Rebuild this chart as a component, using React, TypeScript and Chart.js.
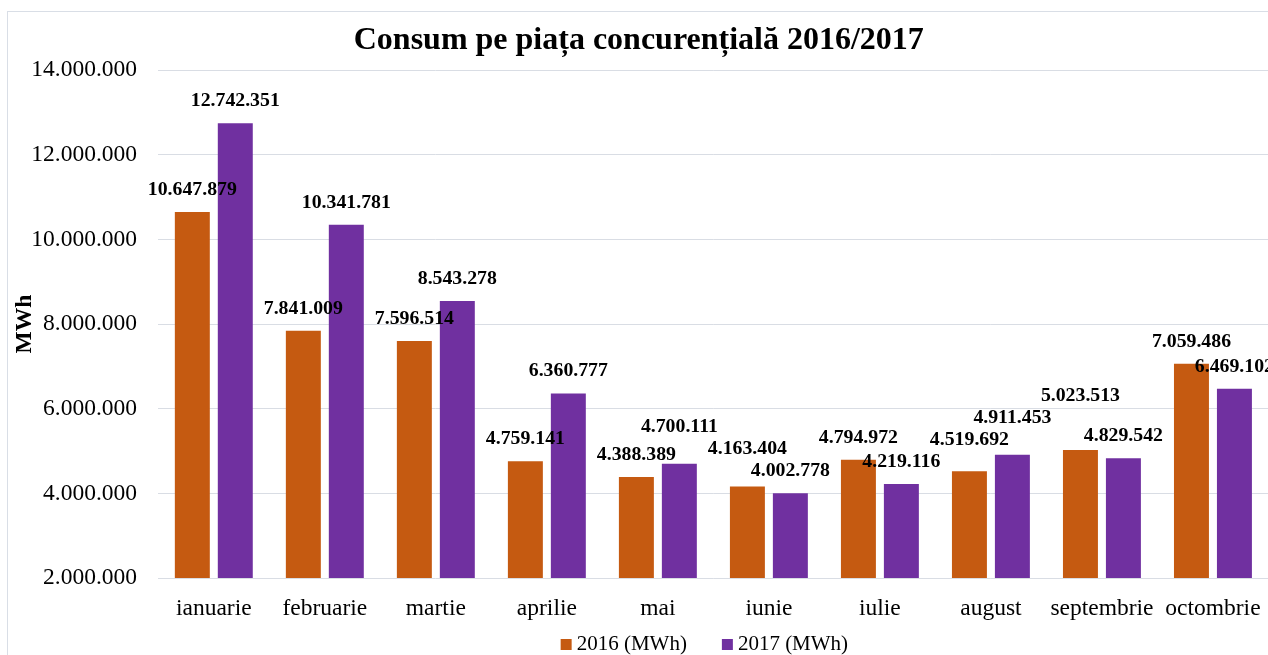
import { useEffect, useRef } from "react";
import { Chart, registerables } from "chart.js";

Chart.register(...registerables);

const months = [
  "ianuarie",
  "februarie",
  "martie",
  "aprilie",
  "mai",
  "iunie",
  "iulie",
  "august",
  "septembrie",
  "octombrie",
];

const values2016 = [
  10647879, 7841009, 7596514, 4759141, 4388389, 4163404, 4794972, 4519692, 5023513, 7059486,
];

const values2017 = [
  12742351, 10341781, 8543278, 6360777, 4700111, 4002778, 4219116, 4911453, 4829542, 6469102,
];

const seriesLabels = ["2016 (MWh)", "2017 (MWh)"];
const chartTitle = "Consum pe piața concurențială 2016/2017";
const yAxisTitle = "MWh";
const yMin = 2000000;
const yMax = 14000000;
const yStep = 2000000;

const FONT = "'Liberation Serif', 'Times New Roman', serif";
const ORANGE = "#C55A11";
const PURPLE = "#7030A0";

const fmt = (v: number) =>
  Math.round(v)
    .toString()
    .replace(/\B(?=(\d{3})+(?!\d))/g, ".");

// Value labels above bars; labels that would collide are lifted upward
const barLabels = {
  id: "barLabels",
  afterDatasetsDraw(chart: any) {
    const ctx = chart.ctx;
    ctx.save();
    ctx.font = `bold 19.8px ${FONT}`;
    ctx.fillStyle = "#000";
    ctx.textAlign = "center";
    ctx.textBaseline = "middle";
    const labels: any[] = [];
    chart.data.datasets.forEach((ds: any, i: number) => {
      const meta = chart.getDatasetMeta(i);
      meta.data.forEach((bar: any, j: number) => {
        const text = fmt(ds.data[j]);
        labels.push({ text, x: bar.x, y: bar.y - 22, w: ctx.measureText(text).width + 2, h: 22, v: ds.data[j] });
      });
    });
    labels.sort((a, b) => a.v - b.v);
    const placed: any[] = [];
    labels.forEach((lb) => {
      let moved = true;
      while (moved) {
        moved = false;
        for (const p of placed) {
          const overlapX = Math.abs(p.x - lb.x) < (p.w + lb.w) / 2;
          const overlapY = Math.abs(p.y - lb.y) < (p.h + lb.h) / 2;
          if (overlapX && overlapY) {
            lb.y = p.y - (p.h + lb.h) / 2;
            moved = true;
          }
        }
      }
      placed.push(lb);
      ctx.fillText(lb.text, lb.x, lb.y);
    });
    ctx.restore();
  },
};

// Simple legend drawn below the x axis, centred under the plot area
const bottomLegend = {
  id: "bottomLegend",
  afterDraw(chart: any) {
    const ctx = chart.ctx;
    const box = 11;
    const gap = 5;
    const itemGap = 35;
    ctx.save();
    ctx.font = `21px ${FONT}`;
    ctx.textBaseline = "middle";
    ctx.textAlign = "left";
    const items = chart.data.datasets.map((ds: any) => ({
      text: ds.label,
      color: ds.backgroundColor,
      w: box + gap + ctx.measureText(ds.label).width,
    }));
    const total =
      items.reduce((s: number, it: any) => s + it.w, 0) + itemGap * (items.length - 1);
    const area = chart.chartArea;
    let x = (area.left + area.right) / 2 - 9 - total / 2;
    const y = chart.height - 20.5;
    items.forEach((it: any) => {
      ctx.fillStyle = it.color;
      ctx.fillRect(x, y - box / 2, box, box);
      ctx.fillStyle = "#000";
      ctx.fillText(it.text, x + box + gap, y);
      x += it.w + itemGap;
    });
    ctx.restore();
  },
};

export default function App() {
  const ref = useRef<HTMLCanvasElement | null>(null);

  useEffect(() => {
    if (!ref.current) return;
    const chart = new Chart(ref.current, {
      type: "bar",
      data: {
        labels: months,
        datasets: [
          {
            label: seriesLabels[0],
            data: values2016,
            backgroundColor: ORANGE,
            borderWidth: 0,
            categoryPercentage: 0.774,
            barPercentage: 0.814,
          },
          {
            label: seriesLabels[1],
            data: values2017,
            backgroundColor: PURPLE,
            borderWidth: 0,
            categoryPercentage: 0.774,
            barPercentage: 0.814,
          },
        ],
      },
      options: {
        responsive: false,
        animation: false,
        layout: { padding: { left: 0, right: 8.4, top: 0, bottom: 37 } },
        plugins: {
          title: {
            display: true,
            text: chartTitle,
            color: "#000",
            font: { family: FONT, size: 32, weight: "bold" },
            padding: { top: 9.8, bottom: 9.8 },
          },
          legend: { display: false },
          tooltip: { enabled: false },
        },
        scales: {
          x: {
            grid: { display: false, drawTicks: false },
            border: { display: false },
            ticks: {
              padding: 17,
              color: "#000",
              font: { family: FONT, size: 23.5 },
              maxRotation: 0,
              autoSkip: false,
            },
            afterFit: (s: any) => {
              s.height = 50;
            },
          },
          y: {
            min: yMin,
            max: yMax,
            ticks: {
              stepSize: yStep,
              padding: 21.3,
              color: "#000",
              font: { family: FONT, size: 23.5 },
              callback: (v: any) => fmt(Number(v)),
            },
            grid: { color: "#d9dde4", drawTicks: false, lineWidth: 1 },
            border: { display: false },
            title: {
              display: true,
              text: yAxisTitle,
              color: "#000",
              font: { family: FONT, size: 23.5, weight: "bold" },
              padding: { top: 3, bottom: 0 },
            },
            afterFit: (s: any) => {
              s.width = 150.3;
            },
          },
        },
      },
      plugins: [barLabels, bottomLegend],
    } as any);
    return () => chart.destroy();
  }, []);

  return (
    <div
      style={{
        position: "fixed",
        left: 7,
        top: 11,
        width: 1300,
        height: 700,
        border: "1px solid #d9dee6",
        background: "#fff",
      }}
    >
      <canvas ref={ref} width={1270} height={653} style={{ display: "block" }} />
    </div>
  );
}
